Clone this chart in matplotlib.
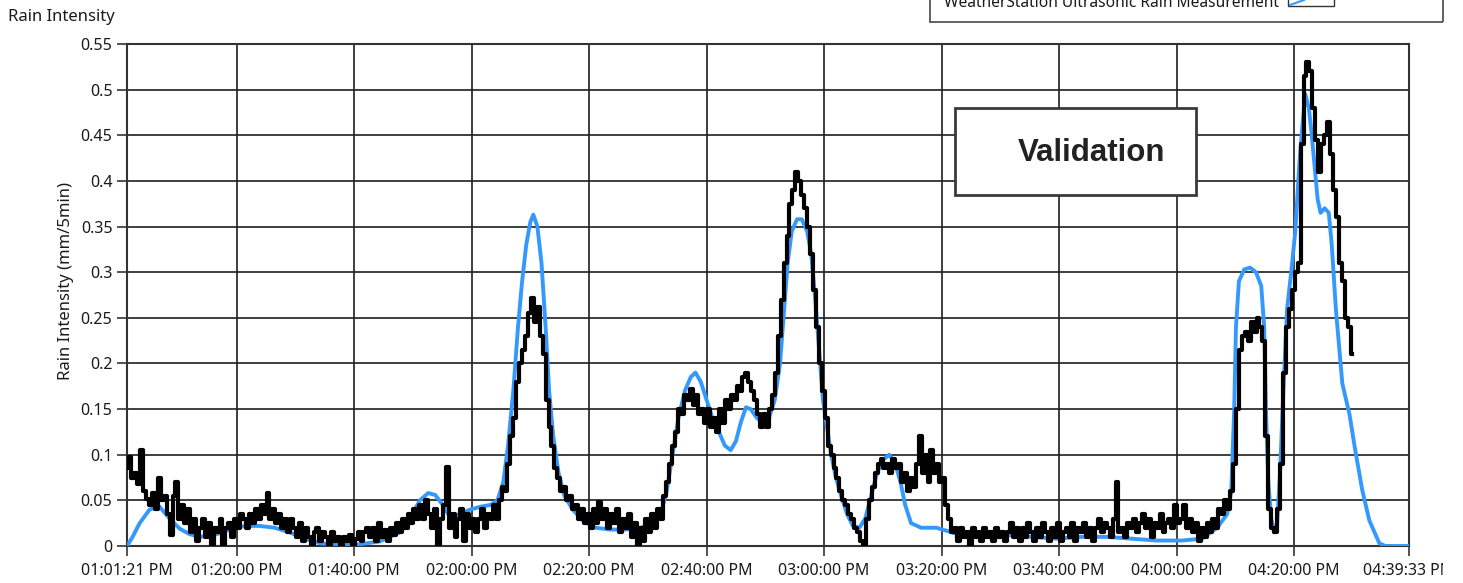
#---- Imports ----------------------------------------------------------------#

import numpy as np
import matplotlib
matplotlib.use('Agg')
import matplotlib.pyplot as plt
from matplotlib.patches import Rectangle

plt.rcParams['font.family'] = ['Noto Sans', 'DejaVu Sans']

#---- Data -------------------------------------------------------------------#

# time axis in minutes after 12:00 PM
t_start = 61.35                             # 01:01:21 PM
t_end = 279.55                              # 04:39:33 PM
x_ticks = [61.35, 80, 100, 120, 140, 160, 180, 200, 220, 240, 260, 279.55]
x_labels = ['01:01:21 PM', '01:20:00 PM', '01:40:00 PM', '02:00:00 PM',
            '02:20:00 PM', '02:40:00 PM', '03:00:00 PM', '03:20:00 PM',
            '03:40:00 PM', '04:00:00 PM', '04:20:00 PM', '04:39:33 PM']
y_ticks = [0, 0.05, 0.1, 0.15, 0.2, 0.25, 0.3, 0.35, 0.4, 0.45, 0.5, 0.55]
y_labels = ['0', '0.05', '0.1', '0.15', '0.2', '0.25', '0.3', '0.35',
            '0.4', '0.45', '0.5', '0.55']

# reference (blue) series, minutes / mm per 5 min
ref_t = [61.35, 62.3, 63.5, 65.2, 66.9, 68.6, 70.3, 72.0, 73.7, 76.2, 78.8,
         81.4, 83.9, 86.5, 89.0, 91.6, 94.2, 97.6, 101.0, 104.4, 107.8,
         109.9, 111.2, 112.6, 113.8, 115.1, 116.3, 118.0, 119.8, 121.5,
         123.2, 124.4, 125.4, 126.2, 127.1, 127.9, 128.6, 129.3, 130.0,
         130.5, 131.2, 131.9, 132.6, 133.2, 133.9, 134.8, 135.8, 137.2,
         138.9, 141.1, 143.6, 146.2, 148.8, 150.8, 152.2, 153.2, 154.2,
         155.2, 156.3, 157.3, 158.1, 159.0, 160.0, 161.0, 162.1, 163.1,
         164.1, 165.0, 165.8, 166.7, 167.5, 168.6, 169.6, 170.6, 171.6,
         172.5, 173.2, 173.8, 174.5, 175.4, 176.2, 177.1, 177.8, 178.5,
         179.2, 179.8, 180.5, 181.2, 182.0, 182.9, 183.9, 184.9, 186.0,
         187.0, 188.0, 189.0, 190.1, 191.1, 192.1, 193.0, 193.8, 194.8,
         196.5, 199.1, 201.7, 204.2, 207.6, 211.0, 215.3, 219.6, 223.8,
         228.1, 232.4, 236.6, 240.9, 244.3, 246.9, 248.6, 249.3, 249.8,
         250.1, 250.6, 251.5, 252.5, 253.5, 254.4, 254.9, 255.2, 255.6,
         256.1, 256.6, 257.1, 257.6, 258.1, 258.8, 259.5, 260.2, 260.9,
         261.4, 261.9, 262.5, 263.0, 263.5, 264.0, 264.5, 265.2, 265.9,
         266.4, 267.1, 268.2, 269.4, 270.4, 271.6, 272.8, 274.5, 275.5,
         279.55]
ref_v = [0.0, 0.01, 0.025, 0.04, 0.043, 0.03, 0.019, 0.013, 0.01, 0.012,
         0.018, 0.022, 0.022, 0.02, 0.015, 0.008, 0.003, 0.001, 0.002,
         0.005, 0.015, 0.035, 0.05, 0.058, 0.056, 0.045, 0.032, 0.035,
         0.04, 0.043, 0.045, 0.05, 0.07, 0.11, 0.17, 0.24, 0.29, 0.33,
         0.355, 0.363, 0.35, 0.31, 0.24, 0.17, 0.12, 0.08, 0.055, 0.04,
         0.028, 0.02, 0.018, 0.018, 0.02, 0.025, 0.035, 0.06, 0.1, 0.14,
         0.17, 0.185, 0.19, 0.18, 0.16, 0.14, 0.125, 0.11, 0.105, 0.115,
         0.135, 0.152, 0.15, 0.14, 0.135, 0.14, 0.16, 0.2, 0.26, 0.31,
         0.345, 0.358, 0.358, 0.345, 0.32, 0.27, 0.21, 0.16, 0.13, 0.1,
         0.075, 0.055, 0.035, 0.022, 0.02, 0.03, 0.055, 0.08, 0.095, 0.1,
         0.09, 0.07, 0.045, 0.025, 0.02, 0.02, 0.015, 0.01, 0.01, 0.012,
         0.01, 0.008, 0.01, 0.01, 0.008, 0.006, 0.006, 0.008, 0.02, 0.035,
         0.06, 0.15, 0.24, 0.29, 0.303, 0.305, 0.3, 0.285, 0.24, 0.15,
         0.07, 0.03, 0.015, 0.025, 0.08, 0.16, 0.26, 0.3, 0.345, 0.42, 0.46,
         0.495, 0.48, 0.45, 0.415, 0.38, 0.365, 0.37, 0.365, 0.33, 0.26,
         0.178, 0.145, 0.105, 0.061, 0.028, 0.003, 0.0, 0.0]

# ultrasonic (black) series, one reading every 30 s from 01:01:21 PM
sensor_v = [
    0.085, 0.097, 0.075, 0.08, 0.068, 0.105, 0.06, 0.052, 0.045, 0.058,
    0.04, 0.074, 0.05, 0.055, 0.035, 0.012, 0.055, 0.07, 0.03, 0.045,
    0.025, 0.04, 0.015, 0.03, 0.005, 0.02, 0.03, 0.01, 0.025, 0.0,
    0.02, 0.015, 0.03, 0.0, 0.02, 0.025, 0.01, 0.03, 0.02, 0.035,
    0.03, 0.02, 0.035, 0.025, 0.04, 0.03, 0.045, 0.035, 0.058, 0.03,
    0.04, 0.025, 0.035, 0.02, 0.03, 0.015, 0.03, 0.02, 0.01, 0.025,
    0.005, 0.02, 0.01, 0.0, 0.015, 0.02, 0.005, 0.015, 0.01, 0.0,
    0.015, 0.005, 0.01, 0.0, 0.01, 0.005, 0.012, 0.0, 0.008, 0.015,
    0.005, 0.015, 0.02, 0.01, 0.02, 0.005, 0.025, 0.01, 0.018, 0.005,
    0.02, 0.012, 0.025, 0.015, 0.03, 0.02, 0.035, 0.025, 0.04, 0.03,
    0.045, 0.03, 0.05, 0.035, 0.02, 0.04, 0.0, 0.03, 0.045, 0.087,
    0.02, 0.035, 0.01, 0.03, 0.04, 0.005, 0.035, 0.02, 0.03, 0.015,
    0.03, 0.04, 0.02, 0.035, 0.03, 0.045, 0.03, 0.05, 0.065, 0.06,
    0.09, 0.12, 0.14, 0.18, 0.2, 0.215, 0.23, 0.255, 0.272, 0.245,
    0.262, 0.23, 0.21, 0.16, 0.13, 0.11, 0.085, 0.075, 0.06, 0.065,
    0.05, 0.055, 0.04, 0.045, 0.03, 0.04, 0.025, 0.035, 0.02, 0.04,
    0.025, 0.048, 0.03, 0.04, 0.02, 0.035, 0.025, 0.04, 0.015, 0.03,
    0.02, 0.035, 0.01, 0.025, 0.0, 0.02, 0.005, 0.03, 0.015, 0.035,
    0.02, 0.04, 0.03, 0.055, 0.07, 0.09, 0.11, 0.125, 0.15, 0.145,
    0.165, 0.16, 0.172, 0.155, 0.165, 0.145, 0.15, 0.135, 0.15, 0.13,
    0.14, 0.125, 0.15, 0.135, 0.16, 0.15, 0.165, 0.16, 0.175, 0.17,
    0.185, 0.19, 0.18, 0.17, 0.16, 0.145, 0.13, 0.145, 0.13, 0.15,
    0.165, 0.19, 0.23, 0.27, 0.31, 0.34, 0.375, 0.39, 0.41, 0.4,
    0.385, 0.37, 0.35, 0.32, 0.28, 0.24, 0.2, 0.17, 0.14, 0.11,
    0.1, 0.085, 0.075, 0.06, 0.05, 0.045, 0.035, 0.03, 0.02, 0.015,
    0.005, 0.0, 0.03, 0.05, 0.065, 0.08, 0.09, 0.095, 0.085, 0.09,
    0.08, 0.095, 0.085, 0.09, 0.07, 0.08, 0.06, 0.075, 0.065, 0.09,
    0.12, 0.08, 0.1, 0.07, 0.105, 0.08, 0.09, 0.07, 0.075, 0.045,
    0.03, 0.015, 0.02, 0.005, 0.02, 0.01, 0.015, 0.0, 0.02, 0.01,
    0.015, 0.005, 0.02, 0.01, 0.015, 0.005, 0.02, 0.01, 0.015, 0.005,
    0.015, 0.025, 0.01, 0.02, 0.005, 0.02, 0.01, 0.025, 0.015, 0.005,
    0.02, 0.01, 0.025, 0.015, 0.005, 0.02, 0.01, 0.025, 0.005, 0.015,
    0.02, 0.01, 0.025, 0.005, 0.02, 0.015, 0.025, 0.01, 0.02, 0.005,
    0.02, 0.03, 0.015, 0.025, 0.02, 0.01, 0.03, 0.07, 0.015, 0.02,
    0.01, 0.025, 0.02, 0.03, 0.015, 0.025, 0.035, 0.02, 0.03, 0.01,
    0.025, 0.02, 0.035, 0.015, 0.025, 0.03, 0.02, 0.045, 0.025, 0.03,
    0.045, 0.02, 0.03, 0.015, 0.025, 0.005, 0.02, 0.01, 0.025, 0.015,
    0.03, 0.02, 0.04, 0.035, 0.05, 0.04, 0.06, 0.09, 0.15, 0.215,
    0.23, 0.235, 0.225, 0.245, 0.235, 0.25, 0.24, 0.225, 0.12, 0.04,
    0.02, 0.015, 0.04, 0.09, 0.19, 0.24, 0.26, 0.28, 0.3, 0.31,
    0.44, 0.515, 0.53, 0.52, 0.48, 0.445, 0.41, 0.44, 0.45, 0.465,
    0.43, 0.39, 0.36, 0.31, 0.29, 0.25, 0.24, 0.21]
sensor_t = t_start + 0.5 * np.arange(len(sensor_v))   # 30 s sampling

#---- Plotting ---------------------------------------------------------------#

W, H = 1463, 583                            # figure size in pixels
fig = plt.figure(figsize=(W / 100, H / 100), dpi=100)
ax = fig.add_axes([127 / W, 1 - 546 / H, (1409 - 127) / W, (546 - 44) / H])

ax.plot(ref_t, ref_v, color='#3399ff', lw=2.8, zorder=3)
ax.plot(sensor_t, sensor_v, color='black', lw=3, drawstyle='steps-mid',
        zorder=4)

ax.set_xlim(t_start, t_end)
ax.set_ylim(0, 0.55)
ax.set_xticks(x_ticks)
ax.set_xticklabels(x_labels)
ax.set_yticks(y_ticks)
ax.set_yticklabels(y_labels)
ax.tick_params(axis='both', direction='out', length=7, width=1.3,
               color='#444444', labelsize=11.5, labelcolor='#1a1a1a')
ax.tick_params(axis='x', pad=5)
ax.grid(True, color='#1e1e1e', lw=1.2)
for s in ax.spines.values():
    s.set_color('#333333')
    s.set_linewidth(1.5)

fig.text(8 / W, 1 - 17 / H, 'Rain Intensity', va='center', ha='left',
         fontsize=12, color='#1a1a1a')
fig.text(66 / W, 1 - 281 / H, 'Rain Intensity (mm/5min)', rotation=90,
         va='center', ha='center', fontsize=12, color='#1a1a1a')

# "Validation" box over the plot area
fig.add_artist(Rectangle((955 / W, 1 - 195 / H), (1196 - 955) / W,
                         (195 - 108) / H, transform=fig.transFigure,
                         facecolor='white', edgecolor='#3a3a3a', lw=2,
                         zorder=10))
fig.text(1092 / W, 1 - 153 / H, 'Validation', ha='center', va='center',
         fontsize=22.5, fontweight='bold', family='Liberation Sans',
         color='#222222', zorder=11)

# legend box, cut off by the top edge
fig.add_artist(Rectangle((930 / W, 1 - 22 / H), (1443 - 930) / W, 0.2,
                         transform=fig.transFigure, facecolor='white',
                         edgecolor='#555555', lw=1.3, zorder=10))
fig.text(944 / W, 1 - 7 / H, 'WeatherStation Ultrasonic Rain Measurement',
         ha='left', va='baseline', fontsize=11.2, color='#1a1a1a', zorder=11)
fig.add_artist(Rectangle((1288 / W, 1 - 6 / H), 46 / W, 0.2,
                         transform=fig.transFigure, facecolor='white',
                         edgecolor='#333333', lw=1, zorder=11))
fig.add_artist(plt.Line2D([1290 / W, 1304 / W], [1 - 5 / H, 1.0],
                          transform=fig.transFigure, color='#3399ff',
                          lw=1.5, zorder=12))

# right edge of the panel hides the rest of the last tick label
fig.add_artist(Rectangle((1443 / W, 0), 20 / W, 1 - 22 / H,
                         transform=fig.transFigure, facecolor='white',
                         edgecolor='none', zorder=20))

plt.savefig('out.png', dpi=100)
